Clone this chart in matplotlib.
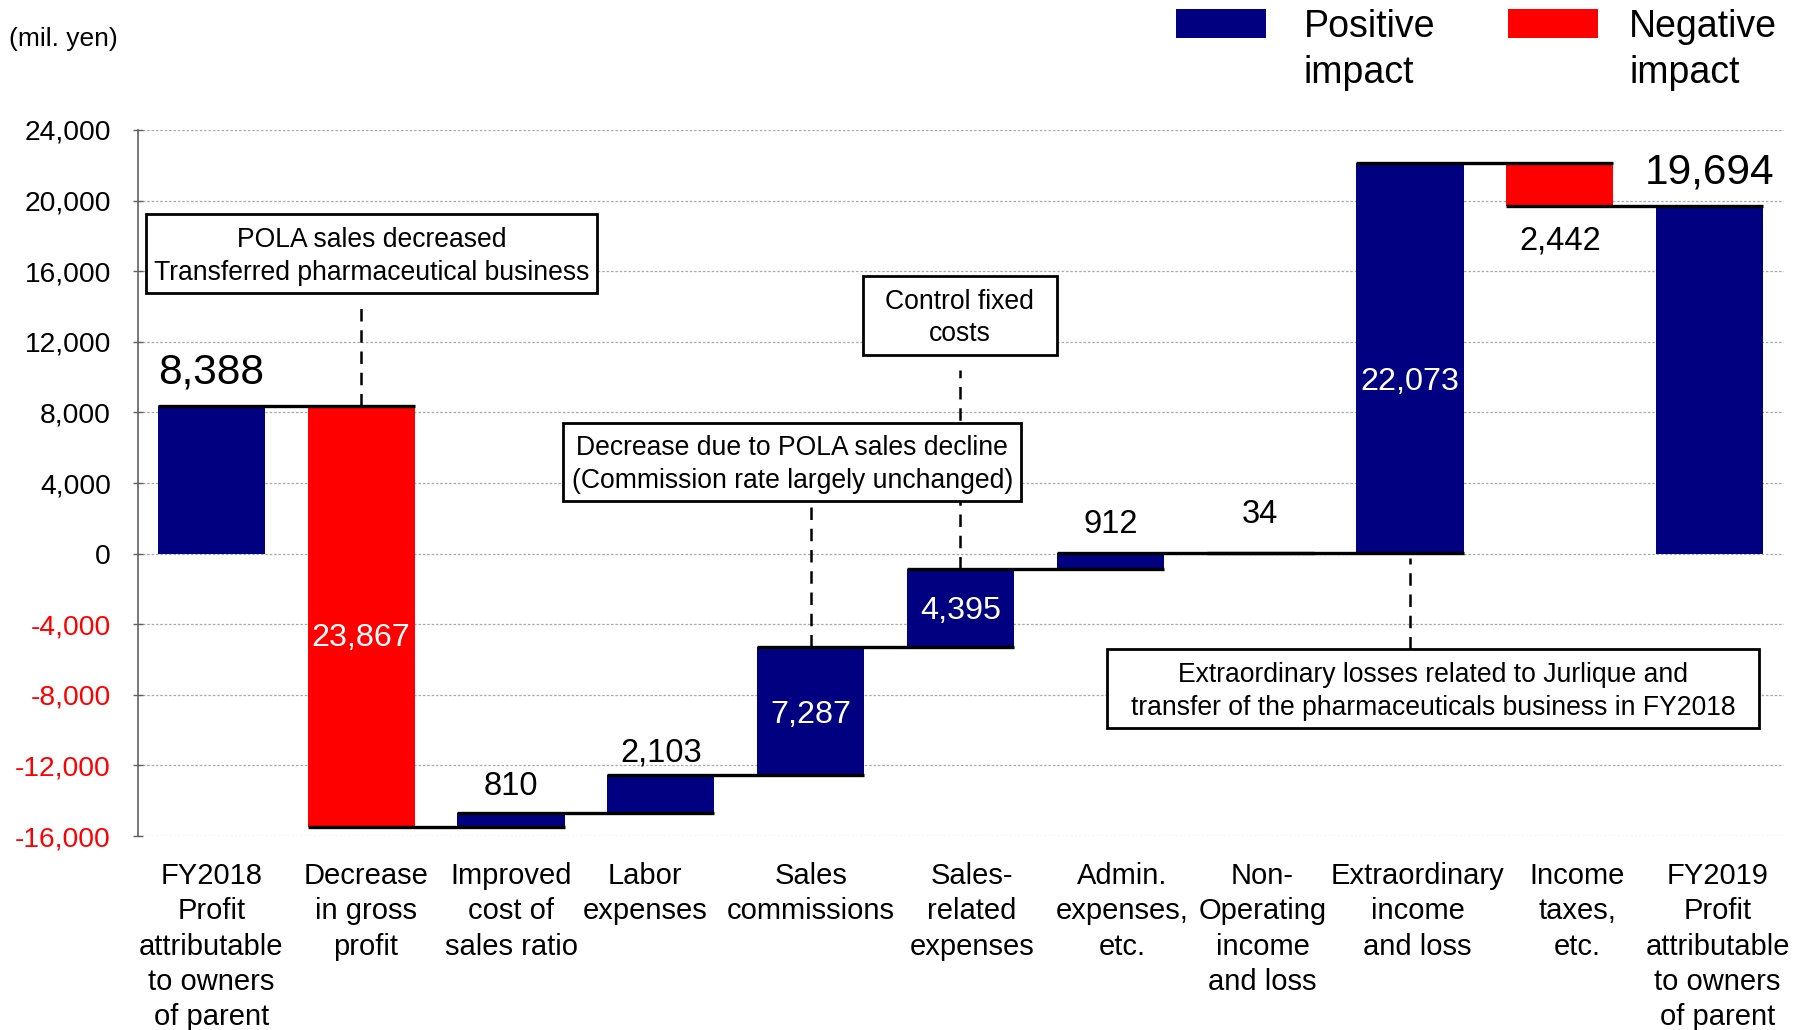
import matplotlib
matplotlib.use('Agg')
import matplotlib.pyplot as plt
from matplotlib.patches import Rectangle

plt.rcParams['font.family'] = ['Liberation Sans', 'DejaVu Sans']

# ---------------- data ----------------
categories = [
    "FY2018\nProfit\nattributable\nto owners\nof parent",
    "Decrease\nin gross\nprofit",
    "Improved\ncost of\nsales ratio",
    "Labor\nexpenses",
    "Sales\ncommissions",
    "Sales-\nrelated\nexpenses",
    "Admin.\nexpenses,\netc.",
    "Non-\nOperating\nincome\nand loss",
    "Extraordinary\nincome\nand loss",
    "Income\ntaxes,\netc.",
    "FY2019\nProfit\nattributable\nto owners\nof parent",
]
changes = [8388, -23867, 810, 2103, 7287, 4395, 912, 34, 22073, -2442, 19694]
is_total = [True, False, False, False, False, False, False, False, False, False, True]
value_labels = ["8,388", "23,867", "810", "2,103", "7,287", "4,395", "912", "34",
                "22,073", "2,442", "19,694"]
yticks = [-16000, -12000, -8000, -4000, 0, 4000, 8000, 12000, 16000, 20000, 24000]
ytick_labels = ["-16,000", "-12,000", "-8,000", "-4,000", "0", "4,000", "8,000",
                "12,000", "16,000", "20,000", "24,000"]

NAVY = '#000080'
RED = '#FF0000'

# --------------- waterfall geometry ---------------
bottoms, heights, colors, ends = [], [], [], []
level = 0
for c, tot in zip(changes, is_total):
    if tot:
        bottoms.append(0); heights.append(c); colors.append(NAVY); level = c
    elif c >= 0:
        bottoms.append(level); heights.append(c); colors.append(NAVY); level += c
    else:
        bottoms.append(level + c); heights.append(-c); colors.append(RED); level += c
    ends.append(level)

fig = plt.figure(figsize=(18.08, 10.30), dpi=100)
ax = fig.add_axes([0.0763, 0.1883, 0.9107, 0.6855])

x = list(range(len(categories)))
W = 0.715
ax.bar(x, heights, bottom=bottoms, width=W, color=colors, zorder=2)

# connector lines
for i in range(len(x) - 1):
    ax.hlines(ends[i], x[i] - W / 2, x[i + 1] + W / 2, color='black', lw=2.4, zorder=3)

ax.set_xlim(-0.49, 10.5)
ax.set_ylim(-16000, 24000)
ax.set_yticks(yticks)
ax.set_yticklabels(ytick_labels, fontsize=20.3)
for lab, v in zip(ax.get_yticklabels(), yticks):
    lab.set_color(RED if v < 0 else 'black')
ax.set_xticks(x)
ax.set_xticklabels([''] * len(x))
ax.tick_params(axis='x', length=0)
ax.tick_params(axis='y', direction='inout', length=7, width=1, color='#606060', pad=16)

# category labels (horizontal nudges in points)
cat_dx = [0, 3.3, 0, -11.6, 0, 8.3, 8.3, 1.7, 5.4, 12.4, 5.8]
for i, (lab, dx) in enumerate(zip(categories, cat_dx)):
    ax.annotate(lab, xy=(x[i], 0), xycoords=('data', 'axes fraction'),
                xytext=(dx, -19.0), textcoords='offset points',
                ha='center', va='top', fontsize=21.0, linespacing=1.32,
                multialignment='center', annotation_clip=False)

for s in ['top', 'right', 'bottom']:
    ax.spines[s].set_visible(False)
ax.spines['left'].set_color('#606060')
ax.spines['left'].set_linewidth(1.2)
ax.yaxis.grid(True, color='#a8a8a8', linestyle=(0, (2, 1.5)), lw=0.9, zorder=0)
ax.set_axisbelow(True)

# value labels: (placement, offset in points, fontsize, colour)
label_style = [
    ('top', 24, 30.5, 'black'),
    ('mid', -15.5, 23.3, 'white'),
    ('top', 18.5, 23.5, 'black'),
    ('top', 16.5, 23.5, 'black'),
    ('mid', -2.5, 23.3, 'white'),
    ('mid', -2.5, 23.3, 'white'),
    ('top', 20.5, 23.5, 'black'),
    ('top', 27.5, 23.5, 'black'),
    ('mid', -17.5, 23.3, 'white'),
    ('bot', -25.5, 23.5, 'black'),
    ('top', 24, 30.5, 'black'),
]
for i, (pl, off, fs, col) in enumerate(label_style):
    b, h = bottoms[i], heights[i]
    if pl == 'top':
        y = b + h
    elif pl == 'bot':
        y = b
    else:
        y = b + h / 2
    ax.annotate(value_labels[i], (x[i], y), xytext=(0, off), textcoords='offset points',
                ha='center', va='center', fontsize=fs, color=col, zorder=7)

# annotation boxes (x0, x1, y0, y1) in data coords
boxes = [
    ((-0.435, 2.573, 14771, 19216), "POLA sales decreased\nTransferred pharmaceutical business"),
    ((4.35, 5.642, 11242, 15752), "Control fixed\ncosts"),
    ((2.35, 5.404, 3007, 7386), "Decrease due to POLA sales decline\n(Commission rate largely unchanged)"),
    ((5.981, 10.327, -9869, -5425),
     "Extraordinary losses related to Jurlique and\ntransfer of the pharmaceuticals business in FY2018"),
]
for (x0, x1, y0, y1), txt in boxes:
    ax.add_patch(Rectangle((x0, y0), x1 - x0, y1 - y0, facecolor='white', edgecolor='black',
                           lw=2, zorder=5))
    ax.text((x0 + x1) / 2, (y0 + y1) / 2 - 150, txt, ha='center', va='center', fontsize=19.1,
            linespacing=1.34, multialignment='center', zorder=6)

dash = (0, (5, 3.5))
ax.vlines(1, bottoms[1] + heights[1], 14300, color='black', lw=1.8, linestyle=dash, zorder=4)
ax.vlines(5, bottoms[5] + heights[5], 10392, color='black', lw=1.8, linestyle=dash, zorder=4)
ax.vlines(4, bottoms[4] + heights[4], 3007, color='black', lw=1.8, linestyle=dash, zorder=4)
ax.vlines(8, -5425, -260, color='black', lw=1.8, linestyle=dash, zorder=4)

# unit label
fig.text(0.005, 0.962, "(mil. yen)", fontsize=19, ha='left', va='center')

# legend
fig.patches.append(Rectangle((0.6504, 0.9631), 0.0498, 0.0282, transform=fig.transFigure,
                             facecolor=NAVY, edgecolor='none'))
fig.patches.append(Rectangle((0.8341, 0.9631), 0.0498, 0.0282, transform=fig.transFigure,
                             facecolor=RED, edgecolor='none'))
fig.text(0.7212, 0.9515, "Positive\nimpact", fontsize=27, ha='left', va='center', linespacing=1.34)
fig.text(0.9010, 0.9515, "Negative\nimpact", fontsize=27, ha='left', va='center', linespacing=1.34)

fig.savefig('out.png', dpi=100)
